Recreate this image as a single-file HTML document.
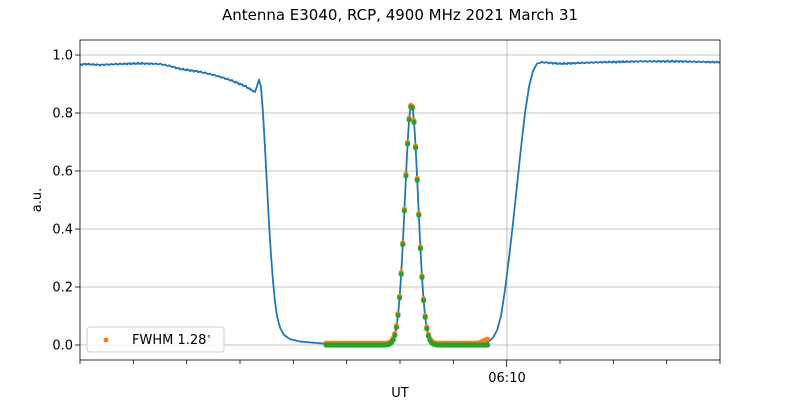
<!DOCTYPE html>
<html><head><meta charset="utf-8"><style>
body{margin:0;background:#fff}
svg{display:block;font-family:"DejaVu Sans","Liberation Sans",sans-serif}
</style></head><body>
<svg id="s" width="800" height="400" viewBox="0 0 800 400">
<rect width="800" height="400" fill="#fff"/>
<text x="400" y="20" font-size="15" text-anchor="middle">Antenna E3040, RCP, 4900 MHz 2021 March 31</text>
<g id="grid" stroke="#b0b0b0" stroke-width="0.8"></g>
<g id="ytl" font-size="13" text-anchor="end"></g>
<path id="blue" fill="none" stroke="#1f77b4" stroke-width="1.8" stroke-linejoin="round"/>
<g id="orange" fill="#ff7f0e"></g>
<g id="green" fill="#2ca02c"></g>
<rect x="80" y="40" width="640" height="320" fill="none" stroke="#000" stroke-width="0.8"/>
<g id="xt" stroke="#000" stroke-width="0.8"></g>
<text x="507" y="382" font-size="13" text-anchor="middle">06:10</text>
<text x="400" y="400" font-size="13" text-anchor="middle" dy="-3">UT</text>
<text transform="translate(41,200) rotate(-90)" font-size="13" text-anchor="middle">a.u.</text>
<rect x="87" y="327" width="137" height="25" rx="3" fill="#fff" fill-opacity="0.8" stroke="#ccc"/>
<circle cx="106" cy="340" r="2.5" fill="#ff7f0e"/>
<text x="132" y="344" font-size="13">FWHM 1.28<tspan font-size="8" dy="-5">∘</tspan></text>
</svg>
<script>
var Y=function(v){return 345-v*290;}, ns="http://www.w3.org/2000/svg";
function el(p,t,a){var e=document.createElementNS(ns,t);for(var k in a)e.setAttribute(k,a[k]);document.getElementById(p).appendChild(e);return e;}
for(var i=0;i<=5;i++){var v=i*0.2,y=Y(v);el("grid","line",{x1:80,x2:720,y1:y,y2:y});
var t=el("ytl","text",{x:73,y:y+4.5});t.textContent=v.toFixed(1);
el("xt","line",{x1:75,x2:80,y1:y,y2:y});}
el("grid","line",{x1:507,x2:507,y1:40,y2:360});
for(var i=0;i<=12;i++){var x=80+i*640/12;el("xt","line",{x1:x,x2:x,y1:360,y2:i==8?367:364});}
function interp(pts,x){for(var i=1;i<pts.length;i++)if(x<=pts[i][0]){var a=pts[i-1],b=pts[i];return a[1]+(b[1]-a[1])*(x-a[0])/(b[0]-a[0]);}return pts[pts.length-1][1];}
var base=[[80,0.966],[85,0.969],[100,0.966],[120,0.969],[140,0.971],[160,0.969],[170,0.962],[180,0.952],[200,0.942],[215,0.93],[230,0.914],[245,0.893],[255,0.872],[259,0.915],[261,0.89],[263,0.8],[265,0.68],[267,0.55],[269,0.42],[271,0.31],[273,0.22],[275,0.15],[277,0.1],[280,0.06],[284,0.035],[290,0.02],[300,0.012],[320,0.006],[360,0.003],[400,0.002],[480,0.003],[488,0.01],[493,0.025],[497,0.05],[501,0.1],[505,0.19],[509,0.3],[513,0.42],[517,0.55],[521,0.68],[525,0.8],[529,0.89],[533,0.945],[537,0.97],[542,0.975],[560,0.97],[600,0.975],[640,0.978],[680,0.978],[720,0.975]];
function g(x){return 0.825*Math.exp(-Math.pow(x-411.5,2)/(2*6.6*6.6));}
var d="";
for(var x=80;x<=720;x+=1){var v=interp(base,x)+g(x);if(x<255||x>540)v+=0.003*Math.sin(x*0.9)*Math.cos(x*2.3);d+=(x==80?"M":"L")+x+","+Y(v).toFixed(1);}
document.getElementById("blue").setAttribute("d",d);
for(var x=326;x<=489;x+=1.6){var gv=g(x);var o=gv+0.006+(x>478?0.0015*(x-478):0);el("orange","circle",{cx:x,cy:Y(o),r:2.6});el("green","circle",{cx:x,cy:Y(gv),r:2.6});}
</script>
</body></html>
